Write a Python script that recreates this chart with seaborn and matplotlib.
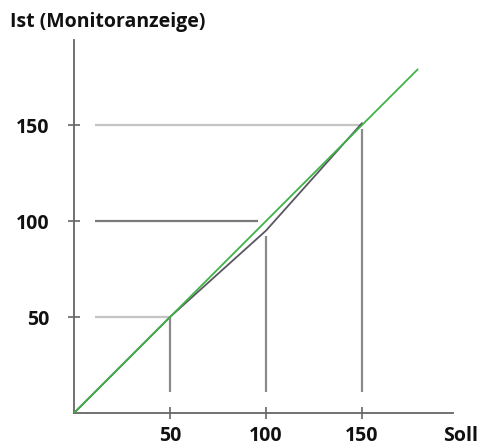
import numpy as np
import pandas as pd
import matplotlib
matplotlib.use("Agg")
import matplotlib.pyplot as plt
import seaborn as sns

# Soll/Ist-Werte
soll = [0, 50, 100, 150]
ist = [0, 50, 95, 151]
ideal_x = [0, 179]
ideal_y = [0, 179]

# Hilfslinien (Ablesehilfen)
h_levels = [50, 100, 150]
h_end = [50, 96, 150]
h_colors = ["#c4c4c4", "#7a7a7a", "#c4c4c4"]
v_levels = [50, 100, 150]
v_end = [50, 92, 148]
guide_start = 11

ticks = [50, 100, 150]

sns.set_style("white")
plt.rcParams["font.family"] = ["Open Sans", "DejaVu Sans"]

fig = plt.figure(figsize=(4.81, 4.48), dpi=100)
ax = fig.add_axes([74 / 481, 35 / 448, 379 / 481, 373 / 448])

for y, xe, c in zip(h_levels, h_end, h_colors):
  ax.hlines(y, guide_start, xe, color=c, lw=1.6, zorder=1)
for x, ye in zip(v_levels, v_end):
  ax.vlines(x, guide_start, ye, color="#8a8a8a", lw=1.6, zorder=1)

sns.lineplot(
  x=soll, y=ist, color="#5a5560", lw=1.3, ax=ax, zorder=2
)
sns.lineplot(
  x=ideal_x, y=ideal_y, color="#3fb34a", lw=1.3, ax=ax, zorder=3
)

ax.set_xlim(0, 197.4)
ax.set_ylim(0, 194.3)
ax.set_xticks(ticks)
ax.set_yticks(ticks)
ax.set_xticklabels([str(t) for t in ticks], fontsize=14, fontweight="bold")
ax.set_yticklabels([str(t) for t in ticks], fontsize=14, fontweight="bold")
ax.tick_params(axis="both", direction="inout", length=9, width=1.2,
  color="#666666", labelcolor="#111111", bottom=True, left=True)
ax.tick_params(axis="x", pad=5)
ax.tick_params(axis="y", pad=13)

for s in ["top", "right"]:
  ax.spines[s].set_visible(False)
for s in ["left", "bottom"]:
  ax.spines[s].set_color("#666666")
  ax.spines[s].set_linewidth(1.3)

fig.text(10 / 481, 1 - 22 / 448, "Ist (Monitoranzeige)", fontsize=14,
  fontweight="bold", va="center", ha="left", color="#111111")
fig.text(478 / 481, 1 - 436 / 448, "Soll", fontsize=14,
  fontweight="bold", va="center", ha="right", color="#111111")

plt.savefig("out.png", dpi=100)
